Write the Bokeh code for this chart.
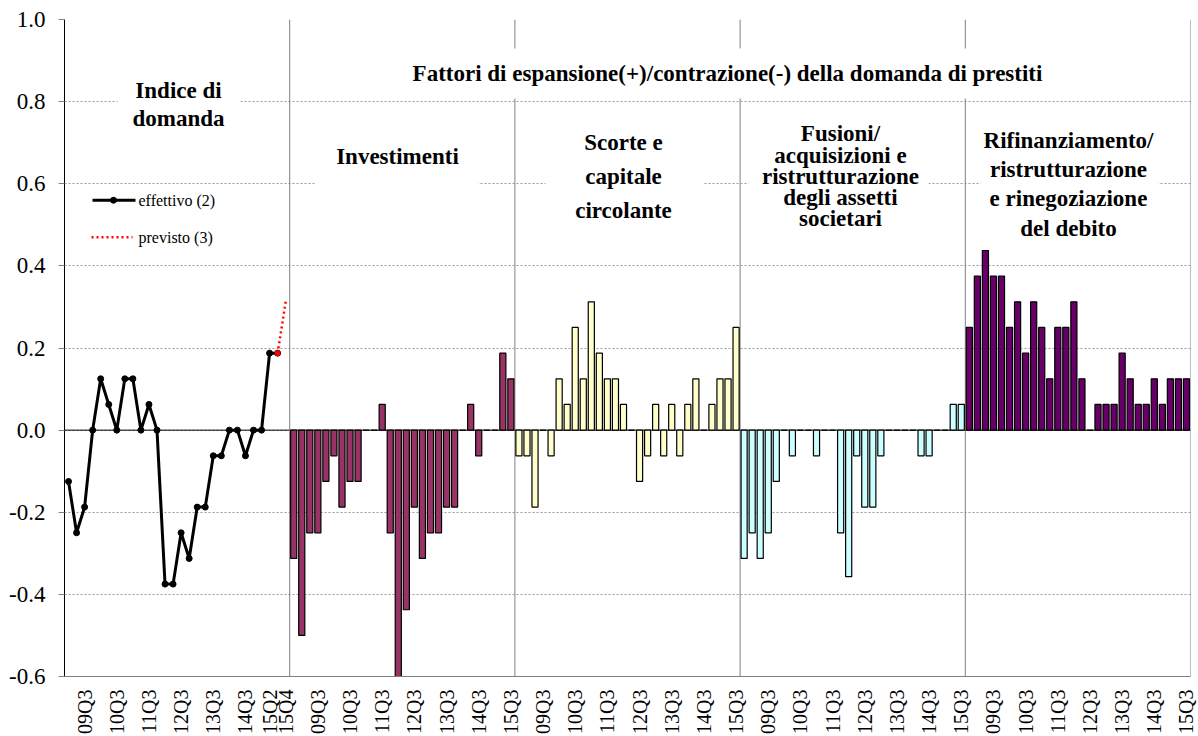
import math
from bokeh.plotting import figure
from bokeh.models import Range1d, FixedTicker, NumeralTickFormatter
from bokeh.core.properties import value
from bokeh.embed import file_html
from bokeh.resources import INLINE

# ---------------- data ----------------
# line panel: 28 quarters (09Q1 .. 15Q4)
line_tick_idx = [2, 6, 10, 14, 18, 22, 25, 27]
line_tick_labels = ["09Q3", "10Q3", "11Q3", "12Q3", "13Q3", "14Q3", "15Q2", "15Q4"]
effettivo = [-0.125, -0.25, -0.1875, 0, 0.125, 0.0625, 0, 0.125, 0.125, 0, 0.0625, 0,
             -0.375, -0.375, -0.25, -0.3125, -0.1875, -0.1875, -0.0625, -0.0625, 0, 0,
             -0.0625, 0, 0, 0.1875, 0.1875]
previsto_idx = [26, 27]
previsto = [0.1875, 0.3125]

# bar panels: 28 quarters each (08Q4 .. 15Q3)
bar_tick_idx = [3, 7, 11, 15, 19, 23, 27]
bar_tick_labels = ["09Q3", "10Q3", "11Q3", "12Q3", "13Q3", "14Q3", "15Q3"]
investimenti = [-0.3125, -0.5, -0.25, -0.25, -0.125, -0.0625, -0.1875, -0.125, -0.125, 0, 0,
                0.0625, -0.25, -0.625, -0.4375, -0.1875, -0.3125, -0.25, -0.25, -0.1875,
                -0.1875, 0, 0.0625, -0.0625, 0, 0, 0.1875, 0.125]
scorte = [-0.0625, -0.0625, -0.1875, 0, -0.0625, 0.125, 0.0625, 0.25, 0.125, 0.3125, 0.1875,
          0.125, 0.125, 0.0625, 0, -0.125, -0.0625, 0.0625, -0.0625, 0.0625, -0.0625, 0.0625,
          0.125, 0, 0.0625, 0.125, 0.125, 0.25]
fusioni = [-0.3125, -0.25, -0.3125, -0.25, -0.125, 0, -0.0625, 0, 0, -0.0625, 0, 0, -0.25,
           -0.357, -0.0625, -0.1875, -0.1875, -0.0625, 0, 0, 0, 0, -0.0625, -0.0625, 0, 0,
           0.0625, 0.0625]
rifinanziamento = [0.25, 0.375, 0.4375, 0.375, 0.375, 0.25, 0.3125, 0.1875, 0.3125, 0.25,
                   0.125, 0.25, 0.25, 0.3125, 0.125, 0, 0.0625, 0.0625, 0.0625, 0.1875, 0.125,
                   0.0625, 0.0625, 0.125, 0.0625, 0.125, 0.125, 0.125]
bar_series = [investimenti, scorte, fusioni, rifinanziamento]
bar_colors = ["#993366", "#FFFFCC", "#CCFFFF", "#660066"]

panel_titles = ["Indice di\ndomanda", "Investimenti", "Scorte e\ncapitale\ncircolante",
                "Fusioni/\nacquisizioni e\nristrutturazione\ndegli assetti\nsocietari",
                "Rifinanziamento/\nristrutturazione\ne rinegoziazione\ndel debito"]
main_title = "Fattori di espansione(+)/contrazione(-) della domanda di prestiti"
y_ticks = [-0.6, -0.4, -0.2, 0.0, 0.2, 0.4, 0.6, 0.8, 1.0]

PANEL = 28
NPANELS = 5
FONT = "Liberation Serif"

# ---------------- figure ----------------
p = figure(width=1198, height=736, output_backend="svg", toolbar_location=None,
           x_range=Range1d(-0.5, PANEL * NPANELS - 0.5), y_range=Range1d(-0.6, 1.0),
           min_border_left=64, min_border_right=8, min_border_top=19, min_border_bottom=59)
p.background_fill_color = "white"
p.border_fill_color = "white"
p.outline_line_color = None

# helpers: pixel position in the reference image -> data
FRAME_W = 1126.0
FRAME_H = 658.0
def dx(px):
    return (px - 64) / (FRAME_W / (PANEL * NPANELS)) - 0.5
def dy(py):
    return 1.0 - (py - 19) / (FRAME_H / 1.6)

# axes
p.yaxis.ticker = FixedTicker(ticks=y_ticks)
p.yaxis.formatter = NumeralTickFormatter(format="0.0")
p.yaxis.major_label_text_font = FONT
p.yaxis.major_label_text_font_size = "23px"
p.yaxis.major_label_text_color = "black"
p.yaxis.major_tick_out = 6
p.yaxis.major_tick_in = 0
p.yaxis.major_tick_line_color = "#808080"
p.yaxis.minor_tick_out = 0
p.yaxis.minor_tick_in = 0
p.yaxis.major_label_standoff = 13
p.yaxis.axis_line_color = "black"
p.yaxis.axis_line_width = 1

ticks = []
overrides = {}
for k, lab in zip(line_tick_idx, line_tick_labels):
    ticks.append(k)
    overrides[k] = lab
for pn in range(1, NPANELS):
    for k, lab in zip(bar_tick_idx, bar_tick_labels):
        t = pn * PANEL + k
        ticks.append(t)
        overrides[t] = lab
p.xaxis.ticker = FixedTicker(ticks=ticks)
p.xaxis.major_label_overrides = overrides
p.xaxis.major_label_orientation = math.pi / 2
p.xaxis.major_label_text_font = FONT
p.xaxis.major_label_text_font_size = "20px"
p.xaxis.major_label_text_color = "black"
p.xaxis.major_tick_out = 0
p.xaxis.major_tick_in = 0
p.xaxis.minor_tick_out = 0
p.xaxis.minor_tick_in = 0
p.xaxis.major_label_standoff = 13
p.xaxis.axis_line_color = "#808080"

p.xgrid.visible = False
p.ygrid.grid_line_color = "#9a9a9a"
p.ygrid.grid_line_dash = "2 2"
p.ygrid.grid_line_width = 1

# zero line
p.segment(x0=[-0.5], y0=[0], x1=[PANEL * NPANELS - 0.5], y1=[0], line_color="black", line_width=1)

# panel separators and right border
sep_x = [pn * PANEL - 0.5 for pn in range(1, NPANELS + 1)]
p.segment(x0=sep_x, y0=[-0.6] * len(sep_x), x1=sep_x, y1=[1.0] * len(sep_x),
          line_color="#808080", line_width=1)

# bars
for pn, (vals, col) in enumerate(zip(bar_series, bar_colors), start=1):
    xs = [pn * PANEL + i for i in range(len(vals))]
    p.vbar(x=xs, top=vals, bottom=0, width=0.76, fill_color=col,
           line_color="black", line_width=1.2)

# index lines
p.line(x=list(range(len(effettivo))), y=effettivo, line_color="black", line_width=3)
p.scatter(x=list(range(len(effettivo))), y=effettivo, size=6, fill_color="black",
          line_color="black")
p.line(x=previsto_idx, y=previsto, line_color="red", line_width=2.5, line_dash="2 3")
p.scatter(x=previsto_idx[:1], y=previsto[:1], size=5, fill_color="red", line_color="red")

# white boxes behind the headings
boxes = [(300, 1170, 48, 98),   # main title
         (117, 240, 72, 136),   # indice
         (315, 478, 130, 196),  # investimenti
         (545, 703, 120, 228),  # scorte
         (748, 928, 118, 234),  # fusioni
         (980, 1158, 126, 242)]  # rifinanziamento
p.quad(left=[dx(b[0]) for b in boxes], right=[dx(b[1]) for b in boxes],
       top=[dy(b[2]) for b in boxes], bottom=[dy(b[3]) for b in boxes],
       fill_color="white", line_color=None)

# headings
p.text(x=[dx(727)], y=[dy(73)], text=[main_title], text_font=value(FONT),
       text_font_style="bold", text_font_size="23px", text_align="center",
       text_baseline="middle", text_color="black")
head_x = [178, 397, 623, 840, 1068]
head_y = [104, 156, 176, 176, 184]
head_lh = [1.13, 1.17, 1.35, 0.85, 1.17]
for hx, hy, lh, t in zip(head_x, head_y, head_lh, panel_titles):
    p.text(x=[dx(hx)], y=[dy(hy)], text=[t], text_font=value(FONT),
           text_font_style="bold", text_font_size="23px", text_align="center",
           text_baseline="middle", text_color="black", text_line_height=lh)

# legend (drawn manually)
p.segment(x0=[dx(92)], y0=[dy(200)], x1=[dx(135)], y1=[dy(200)], line_color="black", line_width=3)
p.scatter(x=[dx(113)], y=[dy(200)], size=6, fill_color="black", line_color="black")
p.segment(x0=[dx(91)], y0=[dy(237)], x1=[dx(132)], y1=[dy(237)], line_color="red",
          line_width=2.5, line_dash="2 3")
p.text(x=[dx(138), dx(138)], y=[dy(200), dy(237)], text=["effettivo (2)", "previsto (3)"],
       text_font=value(FONT), text_font_size="16px", text_align="left",
       text_baseline="middle", text_color="black")

open("out.html", "w").write(file_html(p, INLINE))
